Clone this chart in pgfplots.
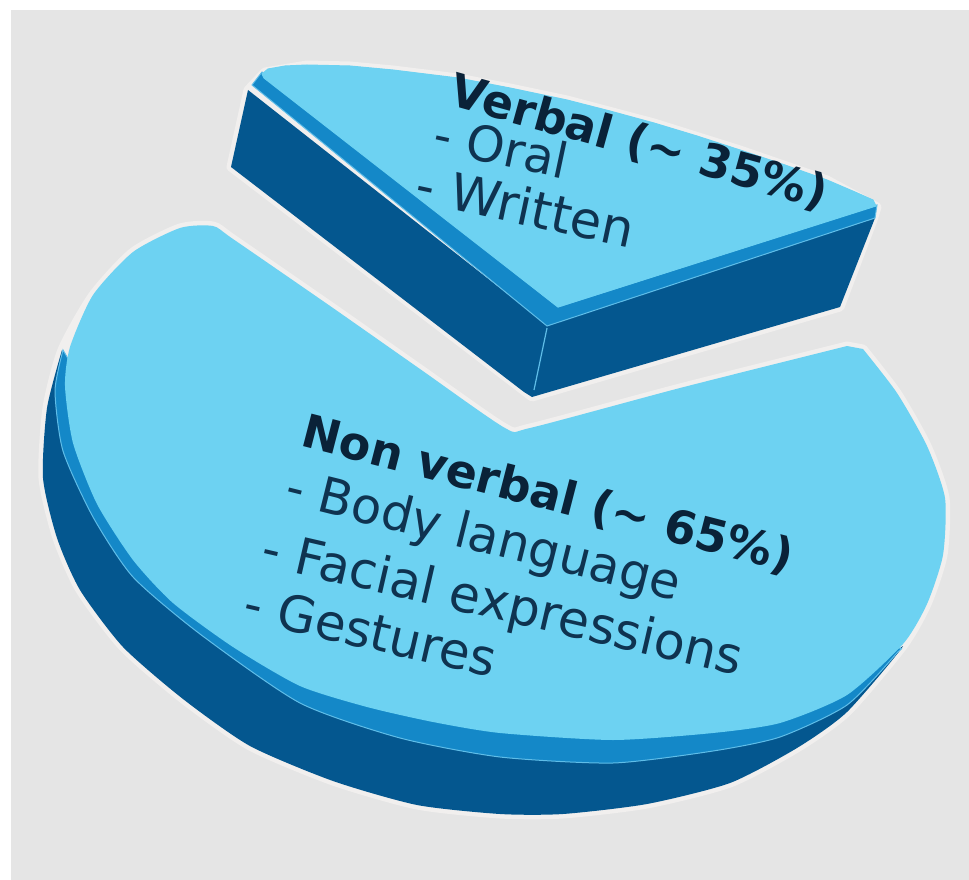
\documentclass[border=0pt]{standalone}
\usepackage{fontspec}
\setmainfont{DejaVu Sans}
\usepackage{pgfplots}
\pgfplotsset{compat=1.18}
\definecolor{bg}{HTML}{E5E5E5}
\definecolor{halo}{HTML}{F1EFEE}
\definecolor{topc}{HTML}{6DD2F2}
\definecolor{midc}{HTML}{1488C8}
\definecolor{dark}{HTML}{04578F}
\definecolor{seam}{HTML}{5FBDE8}
\definecolor{ink}{HTML}{0A2238}
\definecolor{inkb}{HTML}{0F3350}
\begin{document}
\begin{tikzpicture}
\begin{axis}[scale only axis,width=969pt,height=880pt,axis lines=none,
  xmin=0,xmax=969,ymin=0,ymax=880,y dir=reverse,clip=true]
% page and background
\addplot[draw=none,fill=white,forget plot] coordinates {(0,0)(969,0)(969,880)(0,880)} -- cycle;
\addplot[draw=none,fill=bg,forget plot] coordinates {(11,10)(969,10)(969,880)(11,880)} -- cycle;
% halo
\addplot[smooth,tension=0.4,draw=halo,line width=9pt,line join=round,fill=halo,forget plot] coordinates {
(847,346)(680,388)(530,428)(505,428)(420,369)(333,308)(233,239)(213,226)(180,228)(133,252)(93,295)(62,350)(47,408)(43,478)(57,538)(80,590)(123,647)(183,699)(250,746)(333,781)(417,805)(500,814)(563,814)(647,804)(730,783)(797,748)(847,712)(903,646)(927,604)(943,555)(945,498)(927,446)(897,393)(863,349)} -- cycle;
\addplot[draw=halo,line width=9pt,line join=round,fill=halo,forget plot] coordinates {
(248,90)(265,72)(307,65)(350,66)(393,70)(458,78)(510,88)(567,100)(654,123)(740,150)(827,180)(877,207)(873,220)(840,307)(532,397)(231,167)} -- cycle;
% Non verbal: dark side
\addplot[smooth,tension=0.4,draw=none,fill=dark,forget plot] coordinates {
(62,350)(47,408)(43,478)(57,538)(80,590)(123,647)(183,699)(250,746)(333,781)(417,805)(500,814)(563,814)(647,804)(730,783)(797,748)(847,712)(903,646)(850,690)(700,740)(500,740)(300,690)(100,500)} -- cycle;
% Non verbal: mid strip
\addplot[smooth,tension=0.4,draw=seam,line width=1pt,fill=midc,forget plot] coordinates {
(63,350)(55,391)(63,451)(93,517)(133,577)(200,634)(300,703)(400,738)(500,757)(613,763)(713,751)(780,737)(847,705)(896,654)(895,648)(800,650)(500,700)(150,500)} -- cycle;
% Non verbal: top
\addplot[smooth,tension=0.4,draw=none,fill=topc,forget plot] coordinates {
(847,346)(680,388)(530,428)(505,428)(420,369)(333,308)(233,239)(213,226)(180,228)(133,252)(93,295)(70,347)(65,386)(73,443)(97,504)(133,560)(173,603)(233,647)(300,686)(367,707)(433,722)(500,733)(613,740)(713,733)(780,723)(847,695)(903,644)(927,604)(943,555)(945,498)(927,446)(897,393)(863,349)} -- cycle;
% Verbal: sides
\addplot[draw=none,fill=dark,line join=round,forget plot] coordinates {(248,90)(231,167)(524,392)(532,397)(840,307)(875,218)(547,325)} -- cycle;
\addplot[draw=seam,line width=1.2pt,forget plot] coordinates {(547,328)(534,390)};
% Verbal: mid strip
\addplot[draw=seam,line width=1pt,fill=midc,forget plot] coordinates {(252,85)(547,326)(875,218)(877,205)(558,307)(262,72)} -- cycle;
% Verbal: top
\addplot[draw=topc,line width=1pt,line join=round,fill=topc,forget plot] coordinates {
(264,78)(262,74)(268,69)(285,66)(307,65)(350,66)(393,70)(458,78)(510,88)(567,100)(610,111)(654,123)(697,136)(740,150)(785,165)(827,180)(855,192)(873,200)(876,206)(558,307)} -- cycle;
% texts
\node[anchor=base west,rotate=-15.5,text=ink,font=\fontsize{46}{50}\selectfont\bfseries] at (axis cs:444,104) {Verbal (\~{} 35\%)};
\node[anchor=base west,rotate=-12,text=inkb,font=\fontsize{49}{50}\selectfont] at (axis cs:428,150) {- Oral};
\node[anchor=base west,rotate=-12,text=inkb,font=\fontsize{51}{50}\selectfont] at (axis cs:410,201) {- Written};
\node[anchor=base west,rotate=-14.5,text=ink,font=\fontsize{46}{50}\selectfont\bfseries] at (axis cs:296,445) {Non verbal (\~{} 65\%)};
\node[anchor=base west,rotate=-14,text=inkb,font=\fontsize{49.5}{50}\selectfont] at (axis cs:280,502) {- Body language};
\node[anchor=base west,rotate=-13,text=inkb,font=\fontsize{50.5}{50}\selectfont] at (axis cs:256,564) {- Facial expressions};
\node[anchor=base west,rotate=-13,text=inkb,font=\fontsize{50}{50}\selectfont] at (axis cs:238,619) {- Gestures};
\end{axis}
\end{tikzpicture}
\end{document}
